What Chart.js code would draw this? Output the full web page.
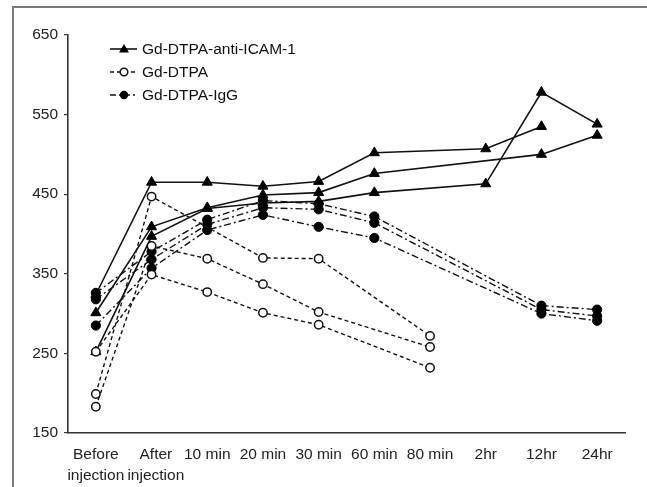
<!DOCTYPE html>
<html>
<head>
<meta charset="utf-8">
<script src="https://cdn.jsdelivr.net/npm/chart.js@4/dist/chart.umd.min.js"></script>
<style>
html,body{margin:0;padding:0;background:#fff;}
#wrap{position:relative;width:647px;height:487px;}
canvas{position:absolute;left:0;top:0;}
</style>
</head>
<body>
<div id="wrap"><canvas id="c" width="647" height="487"></canvas></div>
<script>
const categories = [['Before','injection'], ['  After','  injection'], '10 min', '20 min', '30 min', '60 min', '80 min', '2hr', '12hr', '24hr'];
const yTicks = [150, 250, 350, 450, 550, 650];

// Gd-DTPA-anti-ICAM-1 (three animals)
const icam1 = [324, 465, 465, 460, 466, 502, null, 507, 535, null];
const icam2 = [301, 409, 433, 449, 452, 476, null, null, 500, 524];
const icam3 = [252, 397, 432, 439, 441, 452, null, 463, 578, 538];

// Gd-DTPA
const dtpa1 = [199, 447, null, 370, 369, null, 272, null, null, null];
const dtpa2 = [183, 385, 369, 337, 302, null, 258, null, null, null];
const dtpa3 = [252, 349, 327, 301, 286, null, 232, null, null, null];

// Gd-DTPA-IgG
const igg1 = [326, 378, 418, 442, 438, 422, null, null, 310, 305];
const igg2 = [318, 368, 412, 433, 431, 414, null, null, 305, 297];
const igg3 = [285, 357, 405, 424, 409, 395, null, null, 300, 291];

const legendNames = ['Gd-DTPA-anti-ICAM-1', 'Gd-DTPA', 'Gd-DTPA-IgG'];

const FONT = "'Liberation Sans', Arial, sans-serif";
const FS = 15.5;
const DASH_DTPA = [4, 3];
const DASH_IGG = [7, 3, 2, 3];

function dtpaSet(d){ return {data:d, borderColor:'#111', borderWidth:1.4, borderDash:DASH_DTPA,
  pointStyle:'circle', pointRadius:4.2, pointBackgroundColor:'#fff', pointBorderColor:'#111', pointBorderWidth:1.5,
  spanGaps:true, tension:0, fill:false}; }
function iggSet(d){ return {data:d, borderColor:'#111', borderWidth:1.4, borderDash:DASH_IGG,
  pointStyle:'circle', pointRadius:4.6, pointBackgroundColor:'#000', pointBorderColor:'#000', pointBorderWidth:1,
  spanGaps:true, tension:0, fill:false}; }
function icamSet(d){ return {data:d, borderColor:'#111', borderWidth:1.6,
  pointStyle:'triangle', pointRadius:5.8, pointBackgroundColor:'#000', pointBorderColor:'#000', pointBorderWidth:1,
  spanGaps:true, tension:0, fill:false}; }

const framePlugin = {
  id:'frame',
  beforeDraw(chart){
    const ctx = chart.ctx;
    ctx.save();
    ctx.fillStyle = '#fff';
    ctx.fillRect(0,0,chart.width,chart.height);
    ctx.strokeStyle = '#7a7a7a';
    ctx.lineWidth = 2;
    ctx.beginPath();
    ctx.moveTo(13, 487); ctx.lineTo(13, 7); ctx.lineTo(647, 7);
    ctx.stroke();
    ctx.restore();
  }
};

const legendPlugin = {
  id:'customLegend',
  afterDraw(chart){
    const ctx = chart.ctx;
    const x0 = 110, x1 = 137, xm = 124, xt = 142;
    const rows = [49, 72, 95];
    ctx.save();
    ctx.font = FS + 'px ' + FONT;
    ctx.textBaseline = 'middle';
    ctx.fillStyle = '#111';
    rows.forEach((y, i) => {
      ctx.strokeStyle = '#111';
      ctx.lineWidth = 1.6;
      if (i === 0) ctx.setLineDash([]);
      else if (i === 1) ctx.setLineDash(DASH_DTPA);
      else ctx.setLineDash([6, 3, 2, 3]);
      ctx.beginPath(); ctx.moveTo(x0, y); ctx.lineTo(x1, y); ctx.stroke();
      ctx.setLineDash([]);
      if (i === 0) {
        ctx.fillStyle = '#000';
        ctx.beginPath();
        ctx.moveTo(xm, y-5); ctx.lineTo(xm+5, y+3.5); ctx.lineTo(xm-5, y+3.5); ctx.closePath(); ctx.fill();
      } else if (i === 1) {
        ctx.fillStyle = '#fff'; ctx.lineWidth = 1.5;
        ctx.beginPath(); ctx.arc(xm, y, 3.8, 0, Math.PI*2); ctx.fill(); ctx.stroke();
      } else {
        ctx.fillStyle = '#000';
        ctx.beginPath(); ctx.arc(xm, y, 4.2, 0, Math.PI*2); ctx.fill();
      }
      ctx.fillStyle = '#111';
      ctx.fillText(legendNames[i], xt, y + 0.5);
    });
    ctx.restore();
  }
};

new Chart(document.getElementById('c'), {
  type:'line',
  data:{
    labels: categories,
    datasets:[
      dtpaSet(dtpa1), dtpaSet(dtpa2), dtpaSet(dtpa3),
      icamSet(icam1), icamSet(icam2), icamSet(icam3),
      iggSet(igg1), iggSet(igg2), iggSet(igg3)
    ]
  },
  options:{
    responsive:false,
    devicePixelRatio:1,
    animation:false,
    layout:{padding:{top:35, right:22, left:0, bottom:0}},
    plugins:{legend:{display:false}, tooltip:{enabled:false}},
    scales:{
      x:{
        type:'category',
        offset:true,
        grid:{display:false, drawTicks:false},
        border:{display:true, color:'#333', width:1.6},
        ticks:{color:'#222', font:{size:FS, family:FONT, lineHeight:1.35}, padding:11, maxRotation:0, autoSkip:false},
        afterFit(s){ s.height = 54; }
      },
      y:{
        min:150, max:650,
        afterBuildTicks(s){ s.ticks = yTicks.map(v => ({value:v})); },
        grid:{display:true, drawOnChartArea:false, drawTicks:true, tickLength:4, color:'#333', lineWidth:1.2},
        border:{display:true, color:'#333', width:1.6},
        ticks:{color:'#222', font:{size:FS, family:FONT}, padding:6},
        afterFit(s){ s.width = 68; }
      }
    }
  },
  plugins:[framePlugin, legendPlugin]
});
</script>
</body>
</html>
